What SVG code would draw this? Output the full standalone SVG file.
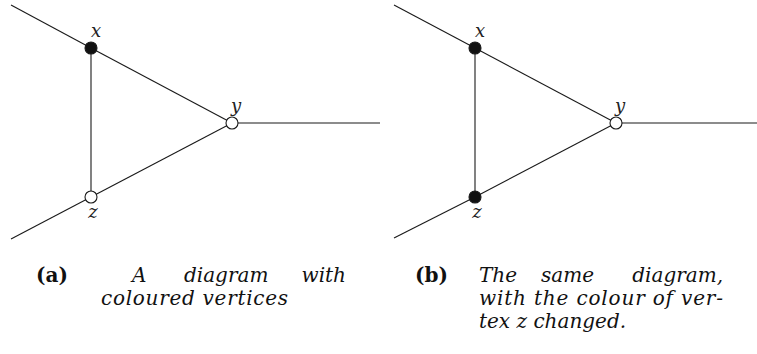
<svg xmlns="http://www.w3.org/2000/svg" width="757" height="354" viewBox="0 0 757 354">
<style>
.e{stroke:#1a1a1a;stroke-width:1.1;fill:none}
.v{stroke:#1a1a1a;stroke-width:1.1}
.b{fill:#111}
.w{fill:#fff}
.lbl{font-family:"DejaVu Serif",serif;font-style:italic;font-size:18px;fill:#222;text-anchor:middle}
.cap{font-family:"DejaVu Serif",serif;font-style:italic;font-size:20px;fill:#111}
.tag{font-family:"DejaVu Serif",serif;font-weight:bold;font-size:20px;fill:#111}
</style>
<rect width="757" height="354" fill="#fff"/>
<g id="connectors">
<line class="e" x1="11" y1="5" x2="91" y2="48"/>
<line class="e" x1="91" y1="48" x2="232" y2="123"/>
<line class="e" x1="91" y1="48" x2="91" y2="197"/>
<line class="e" x1="91" y1="197" x2="232" y2="123"/>
<line class="e" x1="11" y1="239" x2="91" y2="197"/>
<line class="e" x1="232" y1="123" x2="380" y2="123"/>
<line class="e" x1="394" y1="5" x2="475" y2="48"/>
<line class="e" x1="475" y1="48" x2="616" y2="123"/>
<line class="e" x1="475" y1="48" x2="475" y2="197"/>
<line class="e" x1="475" y1="197" x2="616" y2="123"/>
<line class="e" x1="394" y1="238" x2="475" y2="197"/>
<line class="e" x1="616" y1="123" x2="757" y2="123"/>
</g>
<g id="a-x"><circle class="v b" cx="91" cy="48" r="6"/><text class="lbl" x="96" y="37">x</text></g>
<g id="a-y"><circle class="v w" cx="232" cy="123" r="6"/><text class="lbl" x="236" y="112">y</text></g>
<g id="a-z"><circle class="v w" cx="91" cy="197" r="6"/><text class="lbl" x="93" y="218">z</text></g>
<g id="b-x"><circle class="v b" cx="475" cy="48" r="6"/><text class="lbl" x="480" y="37">x</text></g>
<g id="b-y"><circle class="v w" cx="616" cy="123" r="6"/><text class="lbl" x="620" y="112">y</text></g>
<g id="b-z"><circle class="v b" cx="475" cy="197" r="6"/><text class="lbl" x="477" y="218">z</text></g>
<g id="caption-a">
<text class="tag" x="36" y="282">(a)</text>
<text class="cap" x="132" y="282">A</text>
<text class="cap" x="184" y="282">diagram</text>
<text class="cap" x="346" y="282" text-anchor="end">with</text>
<text class="cap" x="101" y="305" textLength="187" lengthAdjust="spacing">coloured vertices</text>
</g>
<g id="caption-b">
<text class="tag" x="415" y="282">(b)</text>
<text class="cap" x="479" y="282">The</text>
<text class="cap" x="541" y="282">same</text>
<text class="cap" x="723" y="282" text-anchor="end">diagram,</text>
<text class="cap" x="479" y="305" textLength="244" lengthAdjust="spacing">with the colour of ver-</text>
<text class="cap" x="479" y="328">tex z changed.</text>
</g>
</svg>
